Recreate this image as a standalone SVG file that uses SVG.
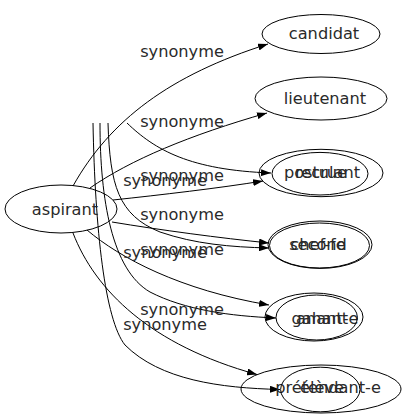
<svg xmlns="http://www.w3.org/2000/svg" width="406" height="419" viewBox="0 0 406 419">
<defs>
<marker id="ah" viewBox="0 0 10 7" refX="10" refY="3.5" markerWidth="10" markerHeight="7" markerUnits="userSpaceOnUse" orient="auto"><path d="M0,0 L10,3.5 L0,7 z" fill="#000"/></marker>
</defs>
<style>
.n ellipse{fill:none;stroke:#000;stroke-width:1}
text{font-family:"DejaVu Sans","Liberation Sans",sans-serif;font-size:16.2px;text-anchor:middle;fill:#2a2a2a}
.e path{fill:none;stroke:#000;stroke-width:1;marker-end:url(#ah)}
</style>
<rect width="406" height="419" fill="#fff"/>
<g id="edges" class="e">
<path d="M73,186 C110,120 170,75 268,44"/>
<path d="M90,188 C130,160 190,135 267,113"/>
<path d="M113,200 C160,195 220,188 263,181"/>
<path d="M112,222 C160,230 220,238 269,243"/>
<path d="M87,230 C120,258 180,290 269,305"/>
<path d="M73,233 C95,290 150,345 257,374.5"/>
<path d="M127,123 C155,150 190,170 271,173"/>
<path d="M108,123 C110,185 118,215 160,232 C195,244 230,247 269,248"/>
<path d="M100,123 C100,200 112,270 150,292 C185,310 230,316 276,318"/>
<path d="M93,123 C95,230 105,320 125,345 C160,380 220,388 280,389.5"/>
</g>
<g id="labels">
<text x="182" y="57">synonyme</text>
<text x="182" y="127">synonyme</text>
<text x="182" y="181">synonyme</text>
<text x="182" y="220">synonyme</text>
<text x="182" y="255">synonyme</text>
<text x="182" y="315">synonyme</text>
<text x="165" y="186">synonyme</text>
<text x="165" y="258">synonyme</text>
<text x="165" y="330">synonyme</text>
</g>
<g id="n-aspirant" class="n"><ellipse cx="61" cy="209" rx="56" ry="24"/><text x="65" y="215">aspirant</text></g>
<g id="n-candidat" class="n"><ellipse cx="321" cy="34" rx="59" ry="19.5"/><text x="324" y="39">candidat</text></g>
<g id="n-lieutenant" class="n"><ellipse cx="321" cy="98.5" rx="66" ry="21.5"/><text x="325" y="104">lieutenant</text></g>
<g id="n-postulant" class="n"><ellipse cx="321" cy="173" rx="62" ry="23.7"/><text x="322" y="178">postulant</text></g>
<g id="n-recrue" class="n"><ellipse cx="320" cy="173.7" rx="48" ry="21.3"/><text x="321" y="178">recrue</text></g>
<g id="n-cheffe" class="n"><ellipse cx="320" cy="244.7" rx="52" ry="23.7"/><text x="318" y="250">chef-fe</text></g>
<g id="n-second" class="n"><ellipse cx="319.5" cy="245.5" rx="50" ry="22.5"/><text x="318" y="250">second</text></g>
<g id="n-galante" class="n"><ellipse cx="314" cy="317" rx="49" ry="24"/><text x="325" y="324">galant-e</text></g>
<g id="n-amant" class="n"><ellipse cx="316.7" cy="317.5" rx="40.7" ry="22.5"/><text x="322" y="324">amant</text></g>
<g id="n-pretendante" class="n"><ellipse cx="321" cy="389" rx="80" ry="24"/><text x="328" y="393">prétendant-e</text></g>
<g id="n-eleve" class="n"><ellipse cx="320.3" cy="389.5" rx="39.7" ry="22.3"/><text x="322" y="393">élève</text></g>
</svg>
